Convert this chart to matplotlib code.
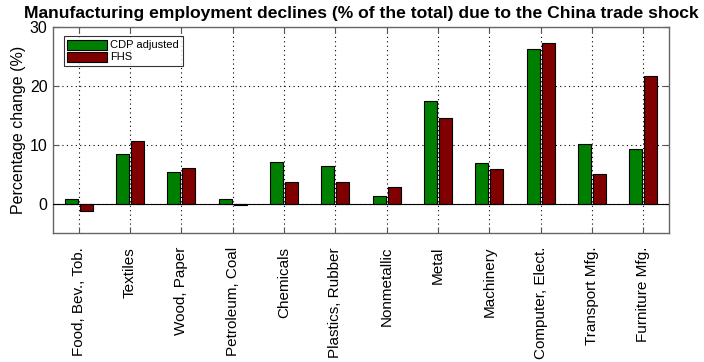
import matplotlib
matplotlib.use("Agg")
import matplotlib.pyplot as plt
import numpy as np

plt.rcParams['font.family'] = ['Liberation Sans', 'DejaVu Sans']

categories = ["Food, Bev., Tob.", "Textiles", "Wood, Paper", "Petroleum, Coal",
              "Chemicals", "Plastics, Rubber", "Nonmetallic", "Metal",
              "Machinery", "Computer, Elect.", "Transport Mfg.", "Furniture Mfg."]
cdp_adjusted = [0.7, 8.4, 5.3, 0.7, 7.0, 6.45, 1.3, 17.5, 6.9, 26.3, 10.1, 9.3]
fhs = [-1.25, 10.6, 6.1, -0.3, 3.7, 3.6, 2.9, 14.5, 5.8, 27.3, 5.1, 21.7]
yticks = [0, 10, 20, 30]

fig = plt.figure(figsize=(7.04, 3.62), dpi=100)
ax = fig.add_axes([53/704, 1 - 233/362, (669-53)/704, (233-27)/362])

x = np.arange(1, len(categories) + 1)
w = 0.25
off = 0.145
ax.bar(x - off, cdp_adjusted, w, color="#008000", edgecolor="black", linewidth=0.8,
       label="CDP adjusted", zorder=3)
ax.bar(x + off, fhs, w, color="#800000", edgecolor="black", linewidth=0.8,
       label="FHS", zorder=3)
ax.axhline(0, color="black", linewidth=0.8, zorder=4)

ax.set_xlim(0.5, 12.5)
ax.set_ylim(-5, 30)
ax.set_xticks(x)
ax.set_xticklabels(categories, rotation=90, fontsize=11)
ax.set_yticks(yticks)
ax.tick_params(axis='y', labelsize=11.5, direction='in', length=4, color='#555555', pad=4)
ax.tick_params(axis='x', direction='in', length=4, color='#555555', pad=10)
ax.tick_params(top=True, right=True)
ax.grid(True, linestyle=(0, (1, 3)), color="black", linewidth=0.8, zorder=0)
for s in ax.spines.values():
    s.set_color("#666666")
    s.set_linewidth(1.0)

ax.set_ylabel("Percentage change (%)", fontsize=11.5, labelpad=3)
ax.set_title("Manufacturing employment declines (% of the total) due to the China trade shock",
             fontsize=12.6, fontweight="bold", pad=6.5)

leg = ax.legend(loc="upper left", bbox_to_anchor=(0.0175, 0.955), borderaxespad=0,
                fontsize=8, frameon=True, fancybox=False, edgecolor="black",
                handlelength=3.6, handleheight=1.0, borderpad=0.3,
                labelspacing=0.12, handletextpad=0.3)
leg.get_frame().set_linewidth(0.8)

fig.savefig("out.png", dpi=100)
